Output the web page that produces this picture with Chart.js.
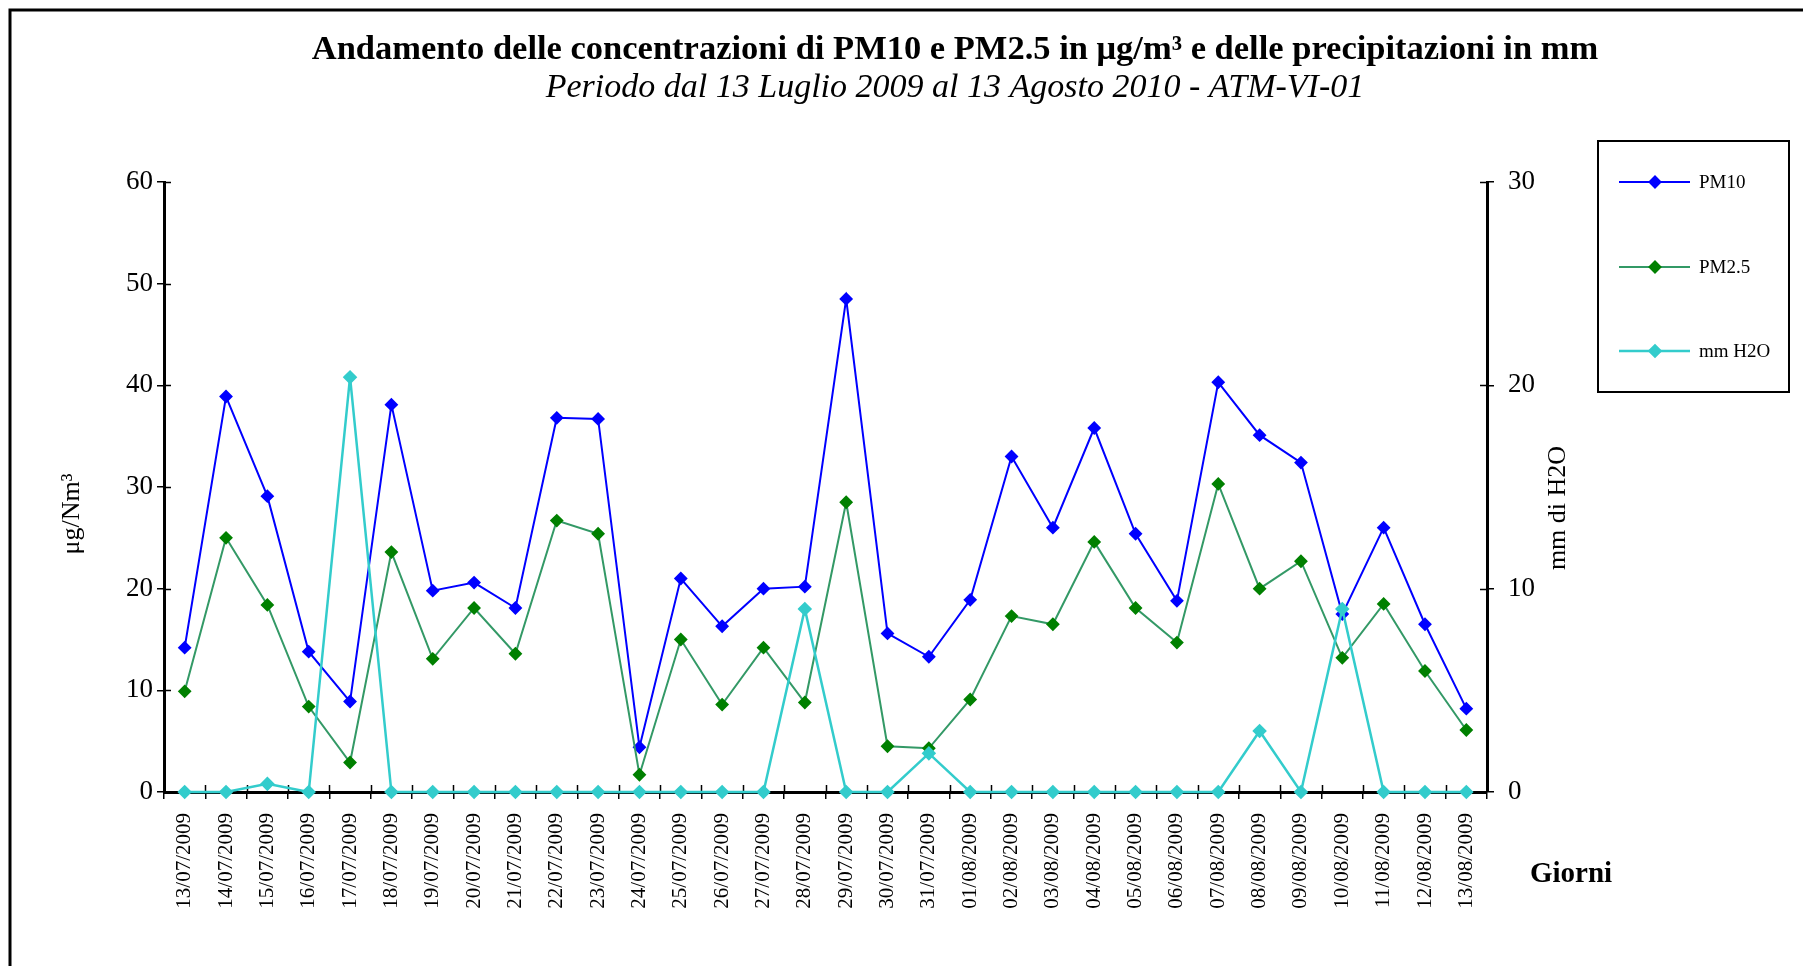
<!DOCTYPE html>
<html>
<head>
<meta charset="utf-8">
<title>PM10 PM2.5 precipitazioni</title>
<script src="https://cdn.jsdelivr.net/npm/chart.js@4.4.1/dist/chart.umd.min.js"></script>
<style>
    body { margin: 0; background: #fff; }
    #wrap { width: 1803px; height: 966px; position: relative; }
</style>
</head>
<body>
<div id="wrap"><canvas id="pmChart" width="1803" height="966"></canvas></div>
<script>
// Dati
const giorni = ['13/07/2009', '14/07/2009', '15/07/2009', '16/07/2009', '17/07/2009', '18/07/2009',
    '19/07/2009', '20/07/2009', '21/07/2009', '22/07/2009', '23/07/2009', '24/07/2009', '25/07/2009',
    '26/07/2009', '27/07/2009', '28/07/2009', '29/07/2009', '30/07/2009', '31/07/2009', '01/08/2009',
    '02/08/2009', '03/08/2009', '04/08/2009', '05/08/2009', '06/08/2009', '07/08/2009', '08/08/2009',
    '09/08/2009', '10/08/2009', '11/08/2009', '12/08/2009', '13/08/2009'];
const pm10 = [14.2, 38.9, 29.1, 13.8, 8.9, 38.1, 19.8, 20.6, 18.1, 36.8, 36.7, 4.4, 21.0, 16.3, 20.0, 20.2,
    48.5, 15.6, 13.3, 18.9, 33.0, 26.0, 35.8, 25.4, 18.8, 40.3, 35.1, 32.4, 17.5, 26.0, 16.5, 8.2];
const pm25 = [9.9, 25.0, 18.4, 8.4, 2.9, 23.6, 13.1, 18.1, 13.6, 26.7, 25.4, 1.7, 15.0, 8.6, 14.2, 8.8,
    28.5, 4.5, 4.3, 9.1, 17.3, 16.5, 24.6, 18.1, 14.7, 30.3, 20.0, 22.7, 13.2, 18.5, 11.9, 6.1];
const mmH2O = [0, 0, 0.4, 0, 20.4, 0, 0, 0, 0, 0, 0, 0, 0, 0, 0, 9.0,
    0, 0, 1.9, 0, 0, 0, 0, 0, 0, 0, 3.0, 0, 9.0, 0, 0, 0];
const ticksSx = [0, 10, 20, 30, 40, 50, 60];
const ticksDx = [0, 10, 20, 30];

const SERIF = '"Liberation Serif", "Times New Roman", serif';

// sfondo, cornice, titoli e legenda
const decorPlugin = {
    id: 'decor',
    beforeDraw(chart) {
        const ctx = chart.ctx;
        ctx.save();
        ctx.fillStyle = '#fff';
        ctx.fillRect(0, 0, chart.width, chart.height);
        ctx.strokeStyle = '#000';
        ctx.lineWidth = 3;
        ctx.beginPath();
        ctx.moveTo(10, chart.height + 5);
        ctx.lineTo(10, 10);
        ctx.lineTo(chart.width + 5, 10);
        ctx.stroke();
        ctx.restore();
    },
    beforeDatasetsDraw(chart) {
        // tacche incrociate (parte interna)
        const ctx = chart.ctx;
        const area = chart.chartArea;
        ctx.save();
        ctx.strokeStyle = '#000';
        ctx.lineWidth = 1.5;
        ctx.beginPath();
        const sx = chart.scales.y, dx = chart.scales.y1;
        sx.ticks.forEach((t, i) => {
            const py = Math.round(sx.getPixelForTick(i)) + 0.5;
            ctx.moveTo(area.left, py); ctx.lineTo(area.left + 7, py);
        });
        dx.ticks.forEach((t, i) => {
            const py = Math.round(dx.getPixelForTick(i)) + 0.5;
            ctx.moveTo(area.right - 7, py); ctx.lineTo(area.right, py);
        });
        const step = (area.right - area.left) / giorni.length;
        for (let i = 0; i <= giorni.length; i++) {
            const px = Math.round(area.left + i * step) + 0.5;
            ctx.moveTo(px, area.bottom - 7); ctx.lineTo(px, area.bottom);
        }
        ctx.stroke();
        ctx.restore();
    },
    afterDraw(chart) {
        const ctx = chart.ctx;
        ctx.save();
        ctx.fillStyle = '#000';
        ctx.textAlign = 'center';
        ctx.textBaseline = 'middle';
        ctx.font = 'bold 34.5px ' + SERIF;
        ctx.fillText('Andamento delle concentrazioni di PM10 e PM2.5 in \u03bcg/m\u00b3 e delle precipitazioni in mm', 955, 50);
        ctx.font = 'italic 34px ' + SERIF;
        ctx.fillText('Periodo dal 13 Luglio 2009 al 13 Agosto 2010 - ATM-VI-01', 955, 88);
        ctx.font = 'bold 29px ' + SERIF;
        ctx.fillText('Giorni', 1571, 875);

        ctx.font = '26px ' + SERIF;
        ctx.save();
        ctx.translate(72, 514);
        ctx.rotate(-Math.PI / 2);
        ctx.fillText('\u03bcg/Nm\u00b3', 0, 0);
        ctx.restore();
        ctx.save();
        ctx.translate(1558, 508);
        ctx.rotate(-Math.PI / 2);
        ctx.fillText('mm di H2O', 0, 0);
        ctx.restore();

        // legenda
        ctx.lineWidth = 2;
        ctx.strokeStyle = '#000';
        ctx.strokeRect(1598, 141, 191, 251);
        ctx.textAlign = 'left';
        ctx.font = '19px ' + SERIF;
        const righe = [182, 267, 351];
        chart.data.datasets.forEach((ds, i) => {
            const y = righe[i];
            ctx.strokeStyle = ds.borderColor;
            ctx.lineWidth = ds.borderWidth;
            ctx.beginPath();
            ctx.moveTo(1619, y); ctx.lineTo(1690, y);
            ctx.stroke();
            ctx.fillStyle = ds.pointBackgroundColor;
            ctx.strokeStyle = ds.pointBorderColor;
            Chart.helpers.drawPoint(ctx, { pointStyle: 'rectRot', radius: ds.pointRadius, borderWidth: 1, rotation: 0 }, 1655, y);
            ctx.fillStyle = '#000';
            ctx.fillText(ds.label, 1699, y + 1);
        });
        ctx.restore();
    }
};

const ctxPm = document.getElementById('pmChart').getContext('2d');
new Chart(ctxPm, {
    type: 'line',
    data: {
        labels: giorni,
        datasets: [{
            label: 'PM10',
            data: pm10,
            yAxisID: 'y',
            borderColor: '#0000ff',
            borderWidth: 2,
            pointBackgroundColor: '#0000ff',
            pointBorderColor: '#0000ff',
            pointStyle: 'rectRot',
            pointRadius: 5.5,
            order: 3
        }, {
            label: 'PM2.5',
            data: pm25,
            yAxisID: 'y',
            borderColor: '#339966',
            borderWidth: 2,
            pointBackgroundColor: '#008000',
            pointBorderColor: '#008000',
            pointStyle: 'rectRot',
            pointRadius: 5.5,
            order: 2
        }, {
            label: 'mm H2O',
            data: mmH2O,
            yAxisID: 'y1',
            borderColor: '#33cccc',
            borderWidth: 2.5,
            pointBackgroundColor: '#33cccc',
            pointBorderColor: '#33cccc',
            pointStyle: 'rectRot',
            pointRadius: 5.5,
            order: 1
        }]
    },
    options: {
        responsive: false,
        animation: false,
        devicePixelRatio: 1,
        tension: 0,
        clip: false,
        layout: { padding: { left: 0, top: 182, right: 226, bottom: 0 } },
        plugins: {
            legend: { display: false },
            title: { display: false },
            tooltip: { enabled: false }
        },
        scales: {
            x: {
                type: 'category',
                offset: true,
                grid: { display: true, drawOnChartArea: false, offset: true, tickLength: 7, color: '#000', lineWidth: 1.5 },
                border: { display: true, color: '#000', width: 3 },
                ticks: {
                    autoSkip: false, minRotation: 90, maxRotation: 90, padding: 14,
                    color: '#000', font: { family: SERIF, size: 21 }
                },
                afterFit(scale) { scale.height = 174; }
            },
            y: {
                position: 'left',
                min: ticksSx[0],
                max: ticksSx[ticksSx.length - 1],
                afterBuildTicks(scale) { scale.ticks = ticksSx.map(v => ({ value: v })); },
                grid: { drawOnChartArea: false, tickLength: 7, color: '#000', lineWidth: 1.5 },
                border: { display: true, color: '#000', width: 3 },
                ticks: { padding: 4, color: '#000', font: { family: SERIF, size: 27 } },
                afterFit(scale) { scale.width = 164; }
            },
            y1: {
                position: 'right',
                min: ticksDx[0],
                max: ticksDx[ticksDx.length - 1],
                afterBuildTicks(scale) { scale.ticks = ticksDx.map(v => ({ value: v })); },
                grid: { drawOnChartArea: false, tickLength: 7, color: '#000', lineWidth: 1.5 },
                border: { display: true, color: '#000', width: 3 },
                ticks: { padding: 14, color: '#000', font: { family: SERIF, size: 27 } },
                afterFit(scale) { scale.width = 90; }
            }
        }
    },
    plugins: [decorPlugin]
});
</script>
</body>
</html>
